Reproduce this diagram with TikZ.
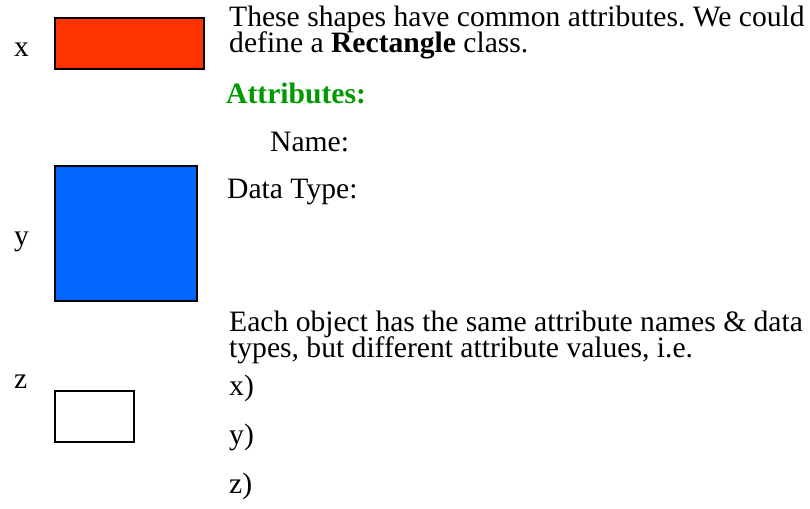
\documentclass[tikz,border=0pt]{standalone}
\usepackage{fontspec}
\setmainfont{Liberation Serif}
\frenchspacing
\definecolor{ShapeRed}{RGB}{255,51,0}
\definecolor{ShapeBlue}{RGB}{0,102,255}
\definecolor{AttrGreen}{RGB}{0,153,0}
\newcommand{\slidefont}{\fontsize{29.6}{26}\selectfont\lineskiplimit=-20pt\relax}
\tikzset{
  shp/.style={rectangle, draw=black, line width=2pt, inner sep=0pt, anchor=north west},
  lbl/.style={anchor=base west, inner sep=0pt, font=\slidefont},
  txt/.style={anchor=base west, inner sep=0pt, align=left, font=\slidefont}
}

\begin{document}
\begin{tikzpicture}[x=1pt, y=-1pt]
  \useasboundingbox (0,0) rectangle (810,508);
  % three objects
  \node[shp, fill=ShapeRed,  minimum width=149pt, minimum height=51pt]  (xbox) at (54,17)  {};
  \node[shp, fill=ShapeBlue, minimum width=142pt, minimum height=135pt] (ybox) at (54,165) {};
  \node[shp, fill=white,     minimum width=79pt,  minimum height=51pt]  (zbox) at (54,390) {};
  \node[lbl] (xlbl) at (14,57)  {x};
  \node[lbl] (ylbl) at (14,245) {y};
  \node[lbl] (zlbl) at (14,388) {z};

  % explanation (multi-line nodes sit on their last baseline)
  \node[txt] (intro) at (229,53) {These shapes have common attributes. We could\\define a \textbf{Rectangle} class.};
  \node[txt, text=AttrGreen, font=\slidefont\bfseries] (attr) at (226,103) {Attributes:};
  \node[txt] (name)  at (270,151) {Name:};
  \node[txt] (dtype) at (227,198) {Data Type:};
  \node[txt] (each)  at (229,357) {Each object has the same attribute names \& data\\types, but different attribute values, i.e.};
  \node[txt] (xval)  at (229,395) {x)};
  \node[txt] (yval)  at (229,444) {y)};
  \node[txt] (zval)  at (229,493) {z)};
\end{tikzpicture}
\end{document}
